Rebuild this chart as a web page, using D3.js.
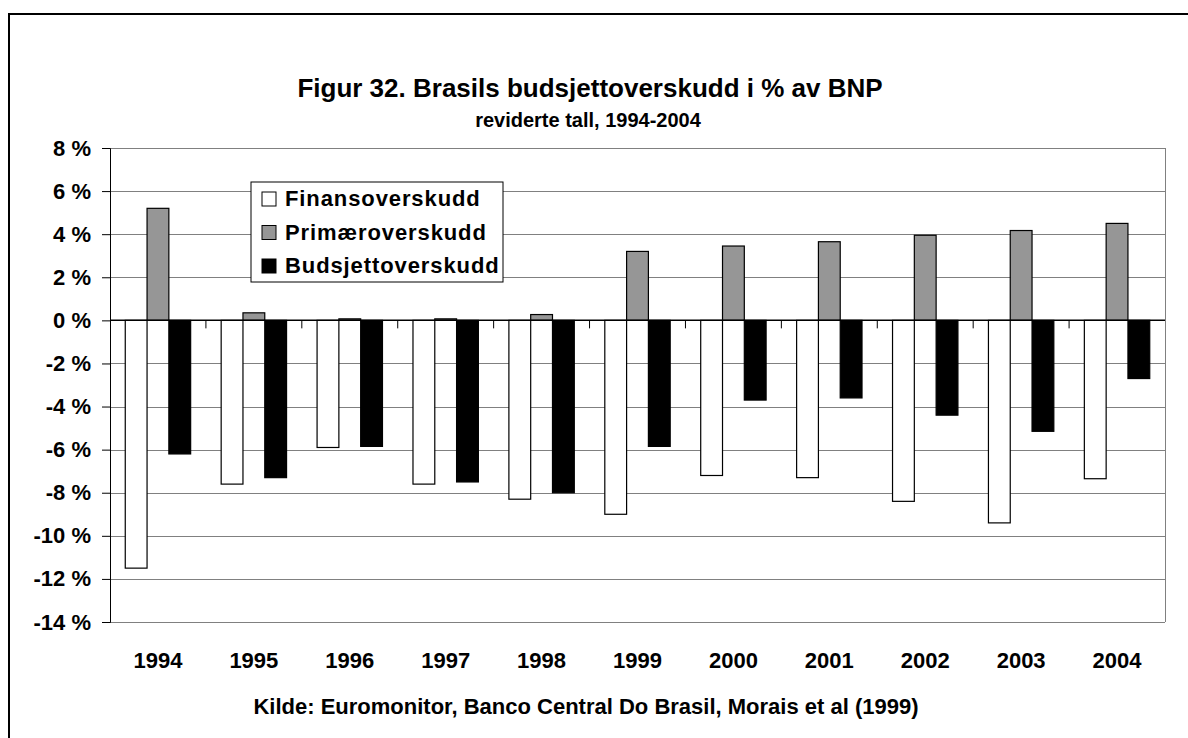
<!DOCTYPE html>
<html>
<head>
<meta charset="utf-8">
<title>Figur 32</title>
<script src="https://cdn.jsdelivr.net/npm/d3@7"></script>
<style>
  body { margin: 0; background: #fff; }
  text { font-family: "Liberation Sans", Arial, sans-serif; font-weight: bold; fill: #000; }
</style>
</head>
<body>
<script>
var years = ["1994", "1995", "1996", "1997", "1998", "1999", "2000", "2001", "2002", "2003", "2004"];
var seriesNames = ["Finansoverskudd", "Primæroverskudd", "Budsjettoverskudd"];
var finans = [-11.5, -7.6, -5.9, -7.6, -8.3, -9.0, -7.2, -7.3, -8.4, -9.4, -7.35];
var primaer = [5.2, 0.35, 0.07, 0.07, 0.27, 3.2, 3.45, 3.65, 3.95, 4.17, 4.5];
var budsjett = [-6.2, -7.3, -5.85, -7.5, -8.0, -5.85, -3.7, -3.6, -4.4, -5.15, -2.7];
var yTicks = [8, 6, 4, 2, 0, -2, -4, -6, -8, -10, -12, -14];
var colors = ["#ffffff", "#969696", "#000000"];

var width = 1188, height = 738;
var plotL = 110, plotR = 1165, plotT = 148, plotB = 622;

var svg = d3.select("body").append("svg")
    .attr("width", width)
    .attr("height", height);

// chart area border (runs off the page right and bottom)
svg.append("rect")
    .attr("x", 9).attr("y", 14)
    .attr("width", 1300).attr("height", 900)
    .attr("fill", "#fff").attr("stroke", "#000").attr("stroke-width", 2);

var x = d3.scaleBand().domain(years).range([plotL, plotR]);
var inner = d3.scaleBand().domain(seriesNames)
    .range([0, x.bandwidth()]).paddingOuter(0.7);
var y = d3.scaleLinear().domain([-14, 8]).range([plotB, plotT]);

// gridlines
svg.append("g").selectAll("line")
    .data(yTicks)
    .enter().append("line")
    .attr("x1", plotL).attr("x2", plotR)
    .attr("y1", function(d) { return Math.round(y(d)) + 0.5; })
    .attr("y2", function(d) { return Math.round(y(d)) + 0.5; })
    .attr("stroke", "#808080").attr("stroke-width", 1);

// plot border right
svg.append("line")
    .attr("x1", plotR + 0.5).attr("x2", plotR + 0.5)
    .attr("y1", plotT).attr("y2", plotB)
    .attr("stroke", "#808080");

// bars
var data = [finans, primaer, budsjett];
data.forEach(function(vals, s) {
  svg.append("g").selectAll("rect")
      .data(vals)
      .enter().append("rect")
      .attr("x", function(d, i) { return x(years[i]) + inner(seriesNames[s]); })
      .attr("width", inner.bandwidth())
      .attr("y", function(d) { return y(Math.max(0, d)); })
      .attr("height", function(d) { return Math.abs(y(d) - y(0)); })
      .attr("fill", colors[s])
      .attr("stroke", "#000").attr("stroke-width", 1.2);
});

// zero axis with category ticks
svg.append("line")
    .attr("x1", plotL).attr("x2", plotR)
    .attr("y1", y(0)).attr("y2", y(0))
    .attr("stroke", "#000").attr("stroke-width", 1.5);
svg.append("g").selectAll("line")
    .data(years.slice(1))
    .enter().append("line")
    .attr("x1", function(d) { return x(d); })
    .attr("x2", function(d) { return x(d); })
    .attr("y1", y(0)).attr("y2", y(0) + 8)
    .attr("stroke", "#000");

// y axis
var yAxis = d3.axisLeft(y)
    .tickValues(yTicks)
    .tickSize(8)
    .tickPadding(11)
    .tickFormat(function(d) { return d + " %"; });
var ya = svg.append("g")
    .attr("transform", "translate(" + plotL + ",0)")
    .call(yAxis);
ya.select(".domain").attr("stroke", "#000");
ya.selectAll(".tick line").attr("stroke", "#000");
ya.selectAll("text")
    .attr("fill", "#000")
    .style("font-family", "'Liberation Sans', Arial, sans-serif")
    .style("font-weight", "bold")
    .style("font-size", "22px");

// year labels
svg.append("g").selectAll("text")
    .data(years)
    .enter().append("text")
    .attr("x", function(d) { return x(d) + x.bandwidth() / 2; })
    .attr("y", 668)
    .attr("text-anchor", "middle")
    .style("font-size", "22px")
    .text(function(d) { return d; });

// titles
svg.append("text")
    .attr("x", 590).attr("y", 97)
    .attr("text-anchor", "middle")
    .style("font-size", "26px")
    .text("Figur 32. Brasils budsjettoverskudd i % av BNP");
svg.append("text")
    .attr("x", 588).attr("y", 127)
    .attr("text-anchor", "middle")
    .style("font-size", "20px")
    .text("reviderte tall, 1994-2004");
svg.append("text")
    .attr("x", 586).attr("y", 714)
    .attr("text-anchor", "middle")
    .style("font-size", "22px")
    .text("Kilde: Euromonitor, Banco Central Do Brasil, Morais et al (1999)");

// legend
var lg = svg.append("g").attr("transform", "translate(251,182)");
lg.append("rect")
    .attr("width", 252).attr("height", 100)
    .attr("fill", "#fff").attr("stroke", "#000");
var items = lg.selectAll("g.item")
    .data(seriesNames)
    .enter().append("g")
    .attr("transform", function(d, i) { return "translate(11," + (10 + i * 33.5) + ")"; });
items.append("rect")
    .attr("width", 14).attr("height", 14)
    .attr("fill", function(d, i) { return colors[i]; })
    .attr("stroke", "#000");
items.append("text")
    .attr("x", 23).attr("y", 14)
    .style("font-size", "22px")
    .style("letter-spacing", "0.9px")
    .text(function(d) { return d; });
</script>
</body>
</html>
